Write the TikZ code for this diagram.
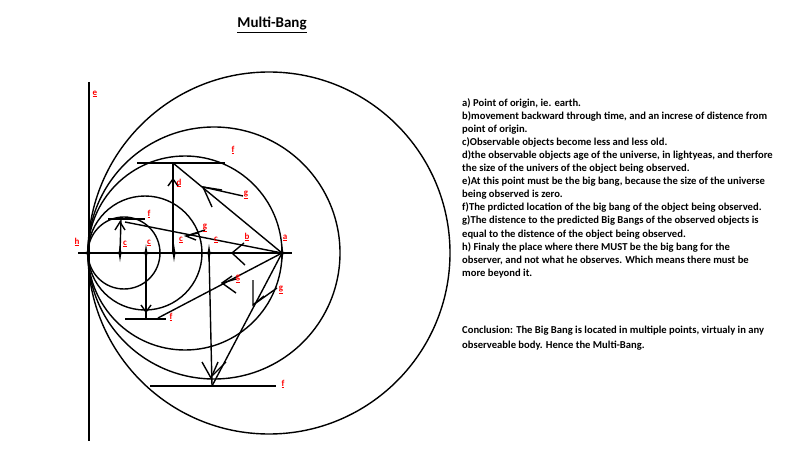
\documentclass[tikz,border=0pt]{standalone}
\usepackage{fontspec}
\setmainfont{Carlito}
\begin{document}
\begin{tikzpicture}[x=1pt,y=-1pt,
  ln/.style={line width=1.4pt,black},
  lab/.style={text=red,font=\fontsize{9}{10}\selectfont\bfseries,inner sep=0.5pt},
  star/.style={fill=black,draw=none}]
\useasboundingbox (0,0) rectangle (800,473);
\newcommand{\mystar}[2]{\fill[star] (#1,#2) +(-8,0) -- +(-1.2,-1.2) -- +(0,-9) -- +(1.2,-1.2) -- +(8,0) -- +(1.2,1.2) -- +(0,9) -- +(-1.2,1.2) -- cycle;}
\node[font=\fontsize{15}{16}\selectfont\bfseries] (title) at (272,25) {\underline{Multi-Bang}};
% circles
\coordinate (h) at (88,253);
\coordinate (a) at (282,253);
\draw[ln] (124,253) circle (36);
\draw[ln] (145,253) circle (57);
\draw[ln] (185,253) circle (97);
\draw[ln] (214,253) circle (126);
\draw[ln] (269,253) circle (181);
\draw[ln] (89,82) -- (89,441);
\draw[ln] (78,253) -- (292,253);
\foreach \x in {88,120,146,174,209,282} {\mystar{\x}{253}}
% f lines
\coordinate (t1) at (173,163); \coordinate (t2) at (121,219);
\coordinate (b1) at (146,319); \coordinate (b2) at (212,386);
\draw[ln] (137,163) -- (225,163);
\draw[ln] (108,219) -- (145,219);
\draw[ln] (125,319) -- (166,319);
\draw[ln] (150,386) -- (276,386);
% verticals
\draw[ln] (173,253) -- (t1);
\draw[ln] (168,186) -- (173,179) -- (178,186);
\draw[ln] (120,253) -- (t2);
\draw[ln] (115,230) -- (120,222) -- (125,230);
\draw[ln] (146,253) -- (b1);
\draw[ln] (141,305) -- (146,312) -- (151,305);
\draw[ln] (209,253) -- (b2);
\draw[ln] (202,362) -- (211,378) -- (218,362);
% diagonals
\draw[ln] (a) -- (t1);
\draw[ln] (212,207) -- (203,187) -- (222,190);
\draw[ln] (243,196) -- (203,187);
\draw[ln] (a) -- (125,222);
\draw[ln] (196,240) -- (186,236) -- (198,233);
\draw[ln] (205,230) -- (186,236);
\draw[ln] (a) -- (158,318);
\draw[ln] (236,293) -- (222,283) -- (232,276);
\draw[ln] (236,279) -- (222,283);
\draw[ln] (a) -- (b2);
\draw[ln] (253,280) -- (253,305) -- (264,296);
\draw[ln] (277,288) -- (253,305);
\draw[ln] (212,376) -- (226,362);
\draw[ln] (245,265) -- (232,253) -- (244,243);
% labels
\node[lab] (lh) at (77,242) {\underline{h}};
\node[lab] (le) at (95,94) {\underline{e}};
\node[lab] (la) at (285,238) {\underline{a}};
\node[lab] (lb) at (247,237) {\underline{b}};
\node[lab] (lc1) at (125,244) {\underline{c}};
\node[lab] (lc2) at (149,243) {\underline{c}};
\node[lab] (lc3) at (181,240) {\underline{c}};
\node[lab] (lc4) at (216,240) {\underline{c}};
\node[lab] (ld) at (179,183) {\underline{d}};
\node[lab] (lf1) at (233,150) {\underline{f}};
\node[lab] (lf2) at (149,214) {\underline{f}};
\node[lab] (lf3) at (171,317) {\underline{f}};
\node[lab] (lf4) at (283,384) {\underline{f}};
\node[lab] (lg1) at (246,195) {\underline{g}};
\node[lab] (lg2) at (205,228) {\underline{g}};
\node[lab] (lg3) at (238,279) {\underline{g}};
\node[lab] (lg4) at (281,290) {\underline{g}};
% text
\node[anchor=north west,align=left,inner sep=0pt,font=\fontsize{10.6}{13.1}\selectfont\bfseries] (txt) at (462,98) {a) Point of origin, ie. earth.\\
b)movement backward through time, and an increse of distence from\\
point of origin.\\
c)Observable objects become less and less old.\\
d)the observable objects age of the universe, in lightyeas, and therfore\\
the size of the univers of the object being observed.\\
e)At this point must be the big bang, because the size of the universe\\
being observed is zero.\\
f)The prdicted location of the big bang of the object being observed.\\
g)The distence to the predicted Big Bangs of the observed objects is\\
equal to the distence of the object being observed.\\
h) Finaly the place where there MUST be the big bang for the\\
observer, and not what he observes. Which means there must be\\
more beyond it.};
\node[anchor=north west,align=left,inner sep=0pt,font=\fontsize{10.6}{15}\selectfont\bfseries] (concl) at (462,326) {Conclusion: The Big Bang is located in multiple points, virtualy in any\\
observeable body. Hence the Multi-Bang.};
\end{tikzpicture}
\end{document}
